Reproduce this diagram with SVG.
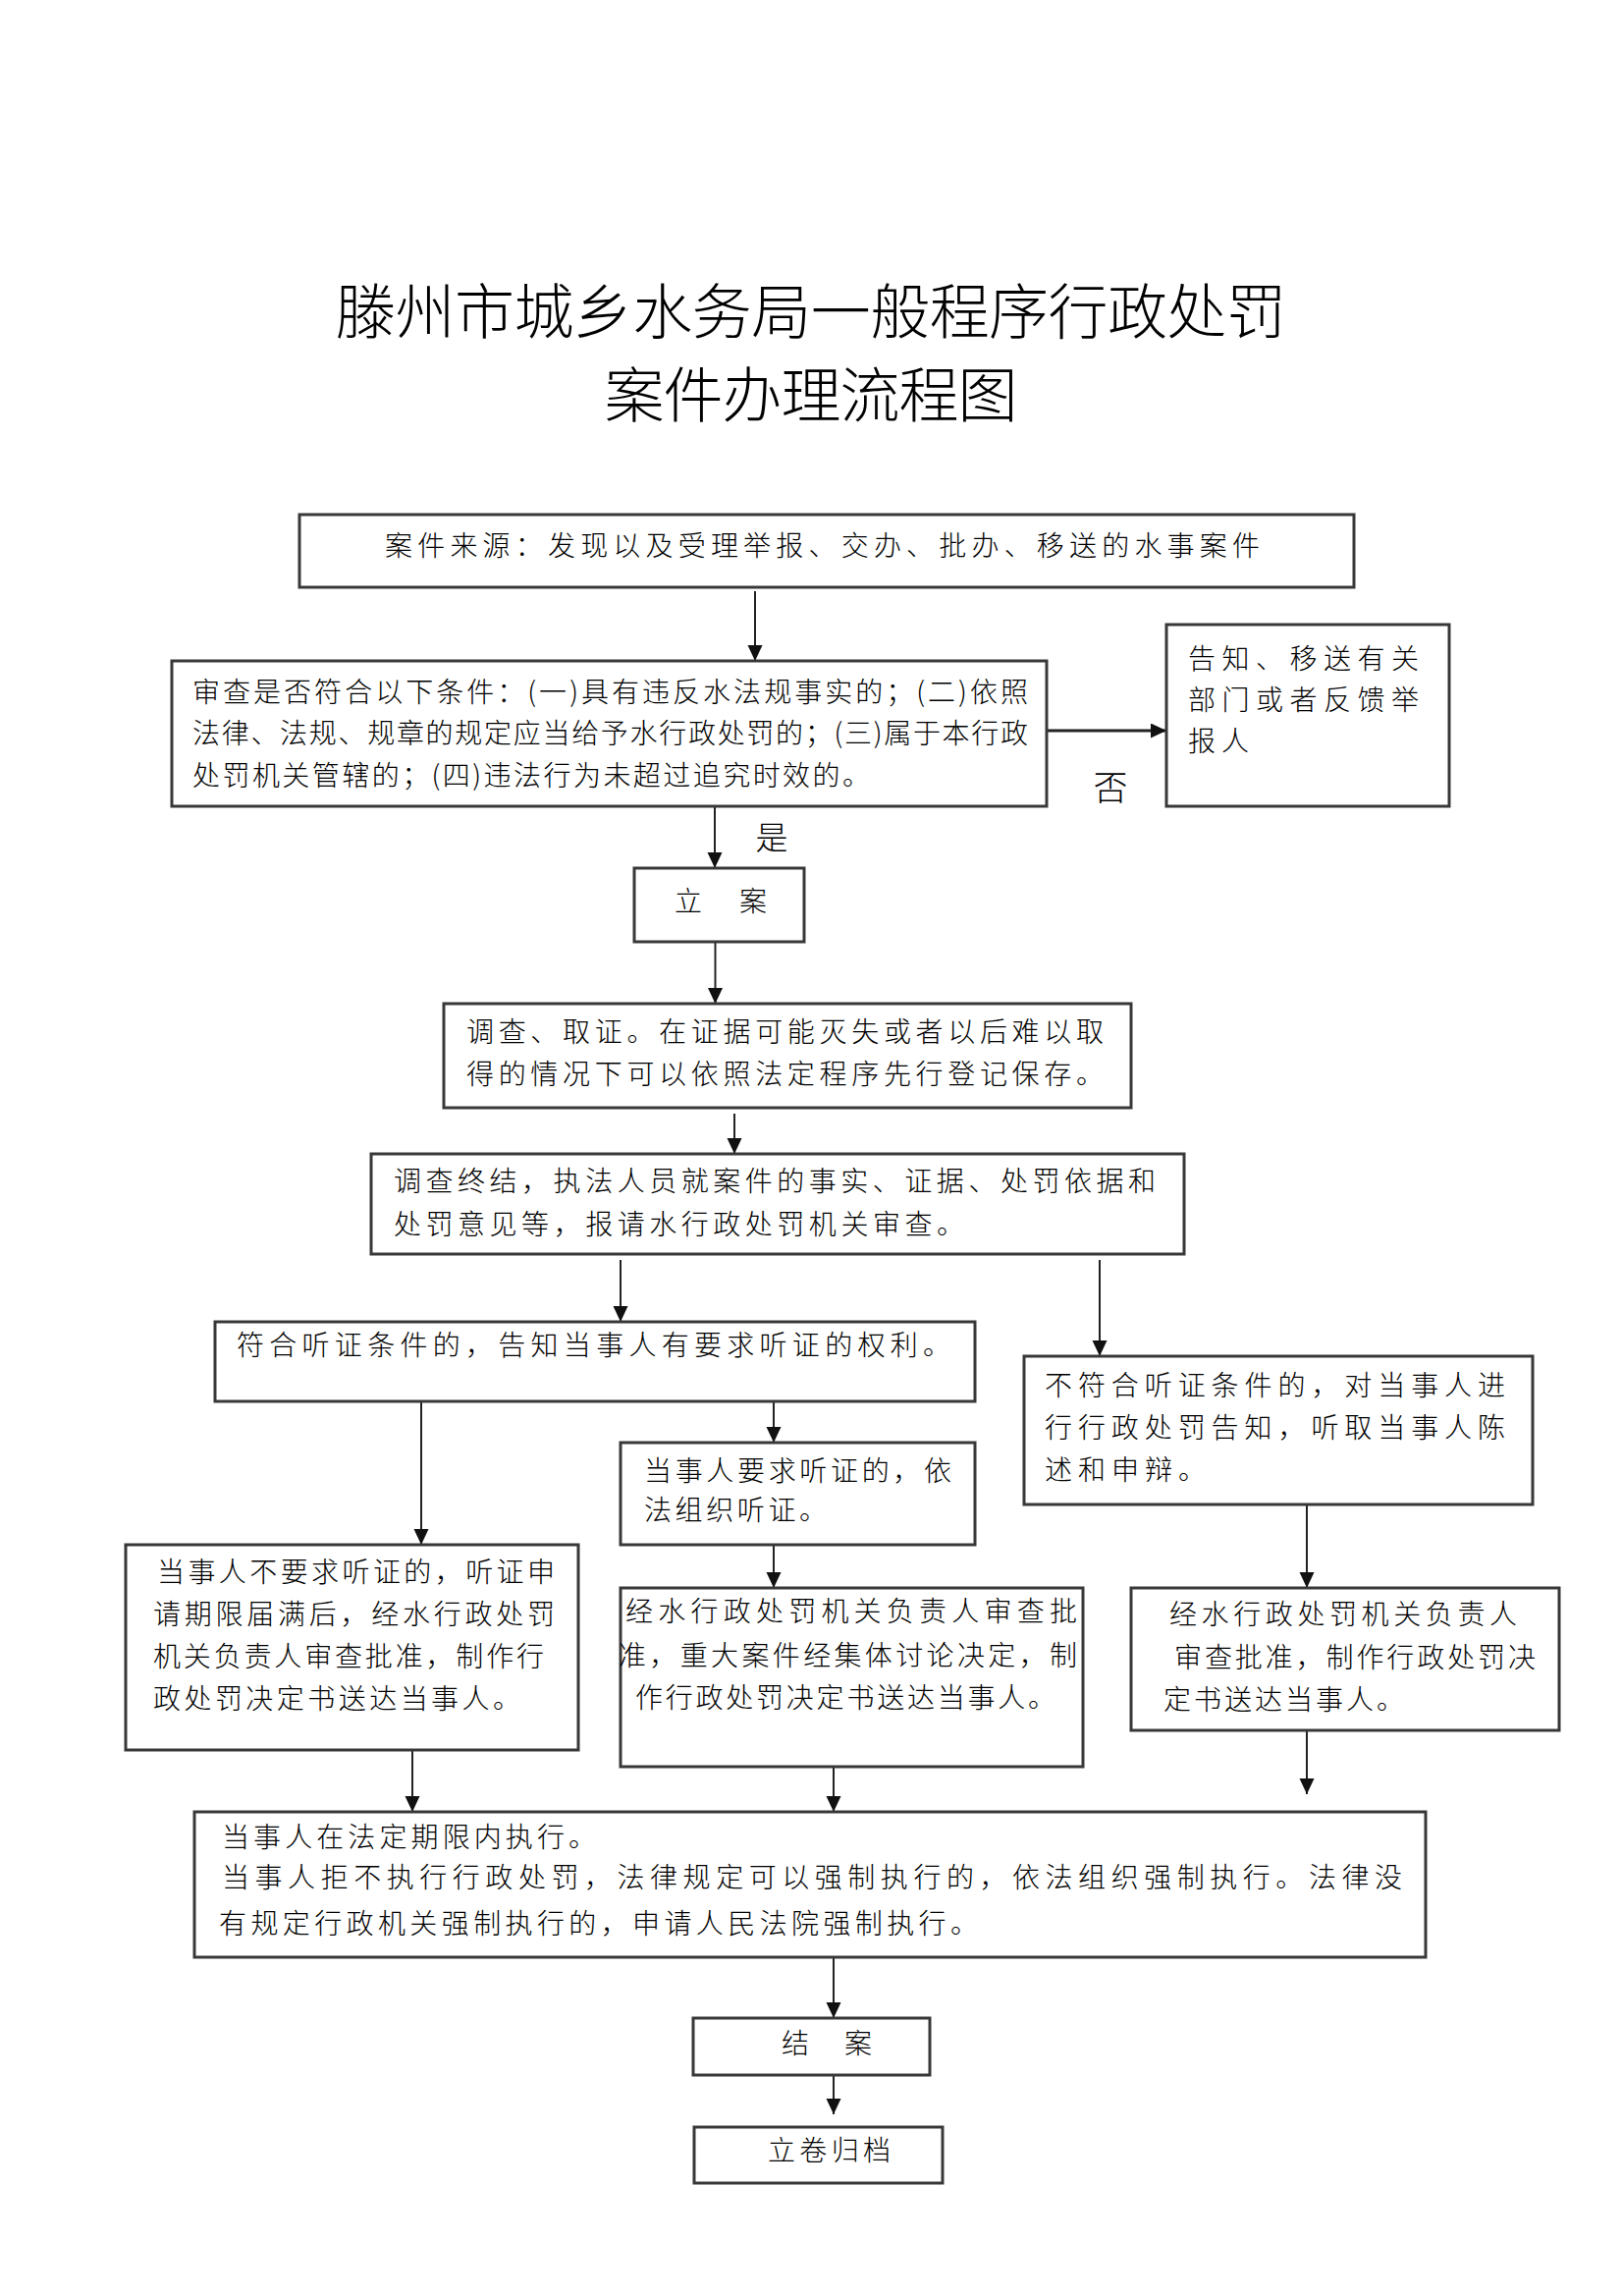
<svg xmlns="http://www.w3.org/2000/svg" width="1652" height="2338" viewBox="0 0 1652 2338">
<style>
.bg{fill:#ffffff}
.box{fill:#ffffff;stroke:#383838;stroke-width:3}
.t{font-family:"Noto Sans CJK SC","Noto Sans CJK TC",sans-serif;font-size:28px;font-weight:300;fill:#000}
.title{font-family:"Noto Sans CJK SC","Noto Sans CJK TC",sans-serif;font-size:61px;font-weight:300;fill:#000;text-anchor:middle}
.lbl{font-family:"Noto Sans CJK SC","Noto Sans CJK TC",sans-serif;font-weight:300;fill:#000;text-anchor:middle}
.c{fill:none;stroke:#222;stroke-width:2}
.cw{fill:none;stroke:#222;stroke-width:3}
</style>
<defs>
<marker id="ah" markerUnits="userSpaceOnUse" markerWidth="17" markerHeight="16" refX="16" refY="7.5" orient="auto" viewBox="0 0 17 16">
<path d="M0,0 L16,7.5 L0,15 z" fill="#111"/>
</marker>
</defs>
<rect class="bg" x="0" y="0" width="1652" height="2338"/>

<g id="title">
<text class="title" x="826" y="340" textLength="968" lengthAdjust="spacing">滕州市城乡水务局一般程序行政处罚</text>
<text class="title" x="826" y="425" textLength="421" lengthAdjust="spacing">案件办理流程图</text>
</g>

<g id="connectors">
<path class="c" d="M769,602 L769,673" marker-end="url(#ah)"/>
<path class="cw" d="M1066,744 L1188,744" marker-end="url(#ah)"/>
<path class="c" d="M728,821 L728,884" marker-end="url(#ah)"/>
<path class="c" d="M728.5,959 L728.5,1022" marker-end="url(#ah)"/>
<path class="c" d="M748,1134 L748,1175" marker-end="url(#ah)"/>
<path class="c" d="M632,1283 L632,1346" marker-end="url(#ah)"/>
<path class="c" d="M1120,1283 L1120,1381" marker-end="url(#ah)"/>
<path class="c" d="M788,1427 L788,1469" marker-end="url(#ah)"/>
<path class="c" d="M429,1427 L429,1573" marker-end="url(#ah)"/>
<path class="c" d="M1331,1532 L1331,1617" marker-end="url(#ah)"/>
<path class="c" d="M788,1573 L788,1617" marker-end="url(#ah)"/>
<path class="c" d="M420,1782 L420,1845" marker-end="url(#ah)"/>
<path class="c" d="M849,1799 L849,1845" marker-end="url(#ah)"/>
<path class="c" d="M1331,1762 L1331,1827" marker-end="url(#ah)"/>
<path class="c" d="M849,1993 L849,2055" marker-end="url(#ah)"/>
<path class="c" d="M849,2113 L849,2153" marker-end="url(#ah)"/>
<text class="lbl" x="1131" y="815" font-size="35">否</text>
<text class="lbl" x="786" y="865" font-size="33">是</text>
</g>

<g id="n1">
<rect class="box" x="305" y="524" width="1074" height="74"/>
<text class="t" x="392" y="566" textLength="891" lengthAdjust="spacing">案件来源：发现以及受理举报、交办、批办、移送的水事案件</text>
</g>

<g id="n2">
<rect class="box" x="175" y="673" width="891" height="148"/>
<text class="t" x="196" y="715" textLength="851" lengthAdjust="spacing">审查是否符合以下条件：(一)具有违反水法规事实的；(二)依照</text>
<text class="t" x="196" y="757" textLength="851" lengthAdjust="spacing">法律、法规、规章的规定应当给予水行政处罚的；(三)属于本行政</text>
<text class="t" x="196" y="800" textLength="690" lengthAdjust="spacing">处罚机关管辖的；(四)违法行为未超过追究时效的。</text>
</g>

<g id="n3">
<rect class="box" x="1188" y="636" width="288" height="185"/>
<text class="t" x="1210" y="681" textLength="235" lengthAdjust="spacing">告知、移送有关</text>
<text class="t" x="1210" y="723" textLength="235" lengthAdjust="spacing">部门或者反馈举</text>
<text class="t" x="1210" y="765" textLength="62" lengthAdjust="spacing">报人</text>
</g>

<g id="n4">
<rect class="box" x="646" y="884" width="173" height="75"/>
<text class="t" x="687" y="928" textLength="94" lengthAdjust="spacing">立　案</text>
</g>

<g id="n5">
<rect class="box" x="452" y="1022" width="700" height="106"/>
<text class="t" x="475" y="1061" textLength="649" lengthAdjust="spacing">调查、取证。在证据可能灭失或者以后难以取</text>
<text class="t" x="475" y="1104" textLength="649" lengthAdjust="spacing">得的情况下可以依照法定程序先行登记保存。</text>
</g>

<g id="n6">
<rect class="box" x="378" y="1175" width="828" height="102"/>
<text class="t" x="401" y="1213" textLength="776" lengthAdjust="spacing">调查终结，执法人员就案件的事实、证据、处罚依据和</text>
<text class="t" x="401" y="1257" textLength="581" lengthAdjust="spacing">处罚意见等，报请水行政处罚机关审查。</text>
</g>

<g id="n7">
<rect class="box" x="219" y="1346" width="774" height="81"/>
<text class="t" x="241" y="1380" textLength="727" lengthAdjust="spacing">符合听证条件的，告知当事人有要求听证的权利。</text>
</g>

<g id="n8">
<rect class="box" x="1043" y="1381" width="518" height="151"/>
<text class="t" x="1064" y="1421" textLength="469" lengthAdjust="spacing">不符合听证条件的，对当事人进</text>
<text class="t" x="1064" y="1464" textLength="469" lengthAdjust="spacing">行行政处罚告知，听取当事人陈</text>
<text class="t" x="1064" y="1507" textLength="164" lengthAdjust="spacing">述和申辩。</text>
</g>

<g id="n9">
<rect class="box" x="632" y="1469" width="361" height="104"/>
<text class="t" x="656" y="1508" textLength="313" lengthAdjust="spacing">当事人要求听证的，依</text>
<text class="t" x="656" y="1548" textLength="186" lengthAdjust="spacing">法组织听证。</text>
</g>

<g id="n10">
<rect class="box" x="128" y="1573" width="461" height="209"/>
<text class="t" x="160" y="1611" textLength="405" lengthAdjust="spacing">当事人不要求听证的，听证申</text>
<text class="t" x="156" y="1654" textLength="409" lengthAdjust="spacing">请期限届满后，经水行政处罚</text>
<text class="t" x="156" y="1697" textLength="398" lengthAdjust="spacing">机关负责人审查批准，制作行</text>
<text class="t" x="156" y="1740" textLength="374" lengthAdjust="spacing">政处罚决定书送达当事人。</text>
</g>

<g id="n11">
<rect class="box" x="632" y="1617" width="471" height="182"/>
<text class="t" x="637" y="1651" textLength="460" lengthAdjust="spacing">经水行政处罚机关负责人审查批</text>
<text class="t" x="630" y="1696" textLength="467" lengthAdjust="spacing">准，重大案件经集体讨论决定，制</text>
<text class="t" x="647" y="1739" textLength="428" lengthAdjust="spacing">作行政处罚决定书送达当事人。</text>
</g>

<g id="n12">
<rect class="box" x="1152" y="1617" width="436" height="145"/>
<text class="t" x="1191" y="1654" textLength="354" lengthAdjust="spacing">经水行政处罚机关负责人</text>
<text class="t" x="1196" y="1698" textLength="368" lengthAdjust="spacing">审查批准，制作行政处罚决</text>
<text class="t" x="1185" y="1741" textLength="245" lengthAdjust="spacing">定书送达当事人。</text>
</g>

<g id="n13">
<rect class="box" x="198" y="1845" width="1254" height="148"/>
<text class="t" x="226" y="1881" textLength="381" lengthAdjust="spacing">当事人在法定期限内执行。</text>
<text class="t" x="226" y="1922" textLength="1202" lengthAdjust="spacing">当事人拒不执行行政处罚，法律规定可以强制执行的，依法组织强制执行。法律没</text>
<text class="t" x="223" y="1969" textLength="773" lengthAdjust="spacing">有规定行政机关强制执行的，申请人民法院强制执行。</text>
</g>

<g id="n14">
<rect class="box" x="706" y="2055" width="241" height="58"/>
<text class="t" x="796" y="2091" textLength="92" lengthAdjust="spacing">结　案</text>
</g>

<g id="n15">
<rect class="box" x="707" y="2166" width="253" height="57"/>
<text class="t" x="782" y="2200" textLength="125" lengthAdjust="spacing">立卷归档</text>
</g>
</svg>
